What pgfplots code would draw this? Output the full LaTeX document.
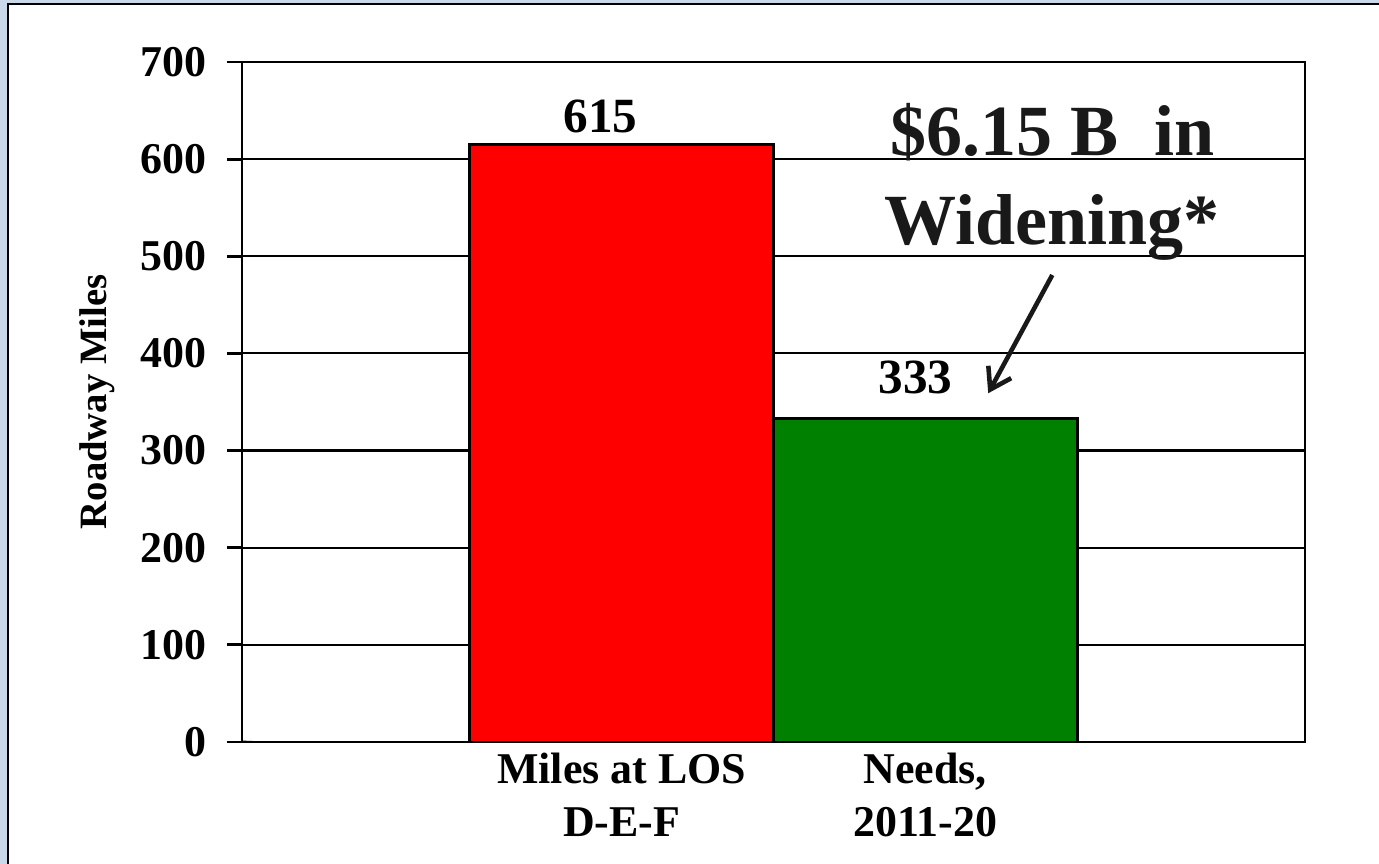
\documentclass[border=0pt]{standalone}
\usepackage{fontspec}
\setmainfont{Liberation Serif}
\usepackage{pgfplots}
\pgfplotsset{compat=1.18}
\usetikzlibrary{arrows.meta}
\definecolor{bgblue}{HTML}{C9D9EA}
\definecolor{barred}{HTML}{FF0000}
\definecolor{bargreen}{HTML}{008000}
\begin{document}
\begin{tikzpicture}
\useasboundingbox (0,0) rectangle (13.79,8.64);
\fill[bgblue] (-0.1,-0.1) rectangle (13.9,8.74);
\fill[white] (0.07,-0.1) rectangle (13.9,8.60);
\draw[line width=0.2mm] (0.08,-0.1) -- (0.08,8.595) -- (13.9,8.595);
\begin{axis}[
  at={(2.42cm,1.22cm)}, anchor=south west,
  scale only axis, width=10.63cm, height=6.80cm,
  xmin=-1.25, xmax=2.25, ymin=0, ymax=700,
  ytick={0,100,...,700},
  ymajorgrids, grid style={black, line width=0.6pt},
  axis line style={line width=0.8pt},
  ytick pos=left, xtick pos=bottom,
  tick align=outside,
  major tick length=0.15cm,
  ytick style={black, line width=0.8pt},
  xtick style={draw=none},
  xtick={0,1},
  xticklabels={{Miles at LOS\\D-E-F},{Needs,\\2011-20}},
  xticklabel style={align=center, font=\fontsize{12.5}{15}\selectfont\bfseries, yshift=0.16cm},
  yticklabel style={font=\fontsize{12.5}{15}\selectfont\bfseries, xshift=-0.08cm},
  /pgf/number format/assume math mode=true,
  ylabel={Roadway Miles},
  ylabel style={font=\fontsize{11}{13}\selectfont\bfseries, at={(axis description cs:-0.127,0.5)}, anchor=base},
]
\addplot[ybar, bar width=3.04cm, bar shift=0pt, fill=barred, draw=black, line width=0.8pt,
  nodes near coords, nodes near coords style={font=\fontsize{14}{16}\selectfont\bfseries, anchor=base, yshift=0.12cm, xshift=-0.21cm, text=black}]
  coordinates {(0,615)};
\addplot[ybar, bar width=3.04cm, bar shift=0pt, fill=bargreen, draw=black, line width=0.8pt,
  nodes near coords, nodes near coords style={font=\fontsize{14}{16}\selectfont\bfseries, anchor=base, yshift=0.25cm, xshift=-0.10cm, text=black}]
  coordinates {(1,333)};
\draw[line width=0.8pt] (axis description cs:0,0) -- ++(0,-0.15cm);
\draw[line width=0.8pt] (axis description cs:1,0) -- ++(0,-0.15cm);
\node[font=\fontsize{20.5}{24}\selectfont\bfseries, anchor=base, text=black!90] at (axis cs:1.418,604) {\$6.15 B~~in};
\node[font=\fontsize{20.5}{24}\selectfont\bfseries, anchor=base, text=black!90] at (axis cs:1.418,511.6) {Widening*};
\draw[line width=1.3pt, black!90, -{Straight Barb[length=2mm,width=2.6mm]}] (axis cs:1.418,480.7) -- (axis cs:1.207,359);
\end{axis}
\end{tikzpicture}
\end{document}
